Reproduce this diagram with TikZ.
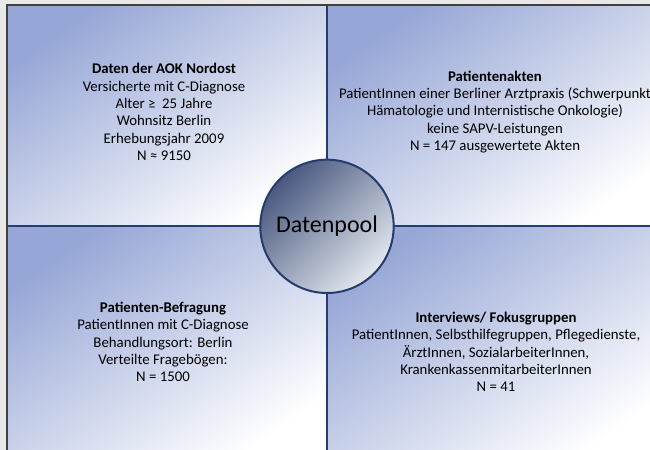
\documentclass[tikz,border=0pt]{standalone}
\usepackage{fontspec}
\setmainfont{Carlito}
\usetikzlibrary{positioning}

\definecolor{navy}{RGB}{38,60,108}
\definecolor{quadblue}{RGB}{150,166,214}
\definecolor{pooldark}{RGB}{74,88,128}
\definecolor{poollight}{RGB}{226,232,238}
\definecolor{framegrey}{RGB}{64,64,64}
\definecolor{bggrey}{RGB}{232,232,232}

\begin{document}
\begin{tikzpicture}[x=0.75pt, y=-0.75pt,
  quad/.style={draw=navy, line width=1.5pt, inner sep=0pt, outer sep=0pt, minimum width=240pt, minimum height=166pt, top color=quadblue, middle color=quadblue!40!white, bottom color=white, shading angle=35},
  info/.style={align=center, font=\fontsize{11.1}{13}\selectfont},
  pool/.style={circle, draw=navy, line width=1.5pt, minimum size=100pt, inner sep=0pt, top color=pooldark, bottom color=poollight, shading angle=45, font=\fontsize{18}{20}\selectfont}]

  \useasboundingbox (0,0) rectangle (650,450);
  \fill[bggrey] (0,0) rectangle (650,450);
  \clip (0,0) rectangle (650,450);

  % Quadrants
  \node[quad, anchor=north west] (TL) at (7,5) {};
  \node[quad, minimum width=256pt, right=0pt of TL] (TR) {};
  \node[quad, minimum height=176pt, below=0pt of TL] (BL) {};
  \node[quad, minimum width=256pt, minimum height=176pt, below=0pt of TR] (BR) {};

  % Outer frame
  \draw[framegrey, line width=1.5pt] (7,452) -- (7,5) -- (652,5);

  % Texts
  \node[info] (aok) at (164,112) {\textbf{Daten der AOK Nordost}\\
    Versicherte mit C-Diagnose\\
    Alter ≥\ \ 25 Jahre\\
    Wohnsitz Berlin\\
    Erhebungsjahr 2009\\
    N ≈ 9150};
  \node[info] (akten) at (495,112) {\textbf{Patientenakten}\\
    PatientInnen einer Berliner Arztpraxis (Schwerpunkt\\
    Hämatologie und Internistische Onkologie)\\
    keine SAPV-Leistungen\\
    N = 147 ausgewertete Akten};
  \node[info] (befragung) at (163,342) {\textbf{Patienten-Befragung}\\
    PatientInnen mit C-Diagnose\\
    Behandlungsort: Berlin\\
    Verteilte Fragebögen:\\
    N = 1500};
  \node[info] (interviews) at (496,352) {\textbf{Interviews/ Fokusgruppen}\\
    PatientInnen, Selbsthilfegruppen, Pflegedienste,\\
    ÄrztInnen, SozialarbeiterInnen,\\
    KrankenkassenmitarbeiterInnen\\
    N = 41};

  % Centre
  \node[pool] (pool) at (TL.south east) {Datenpool};

\end{tikzpicture}
\end{document}
